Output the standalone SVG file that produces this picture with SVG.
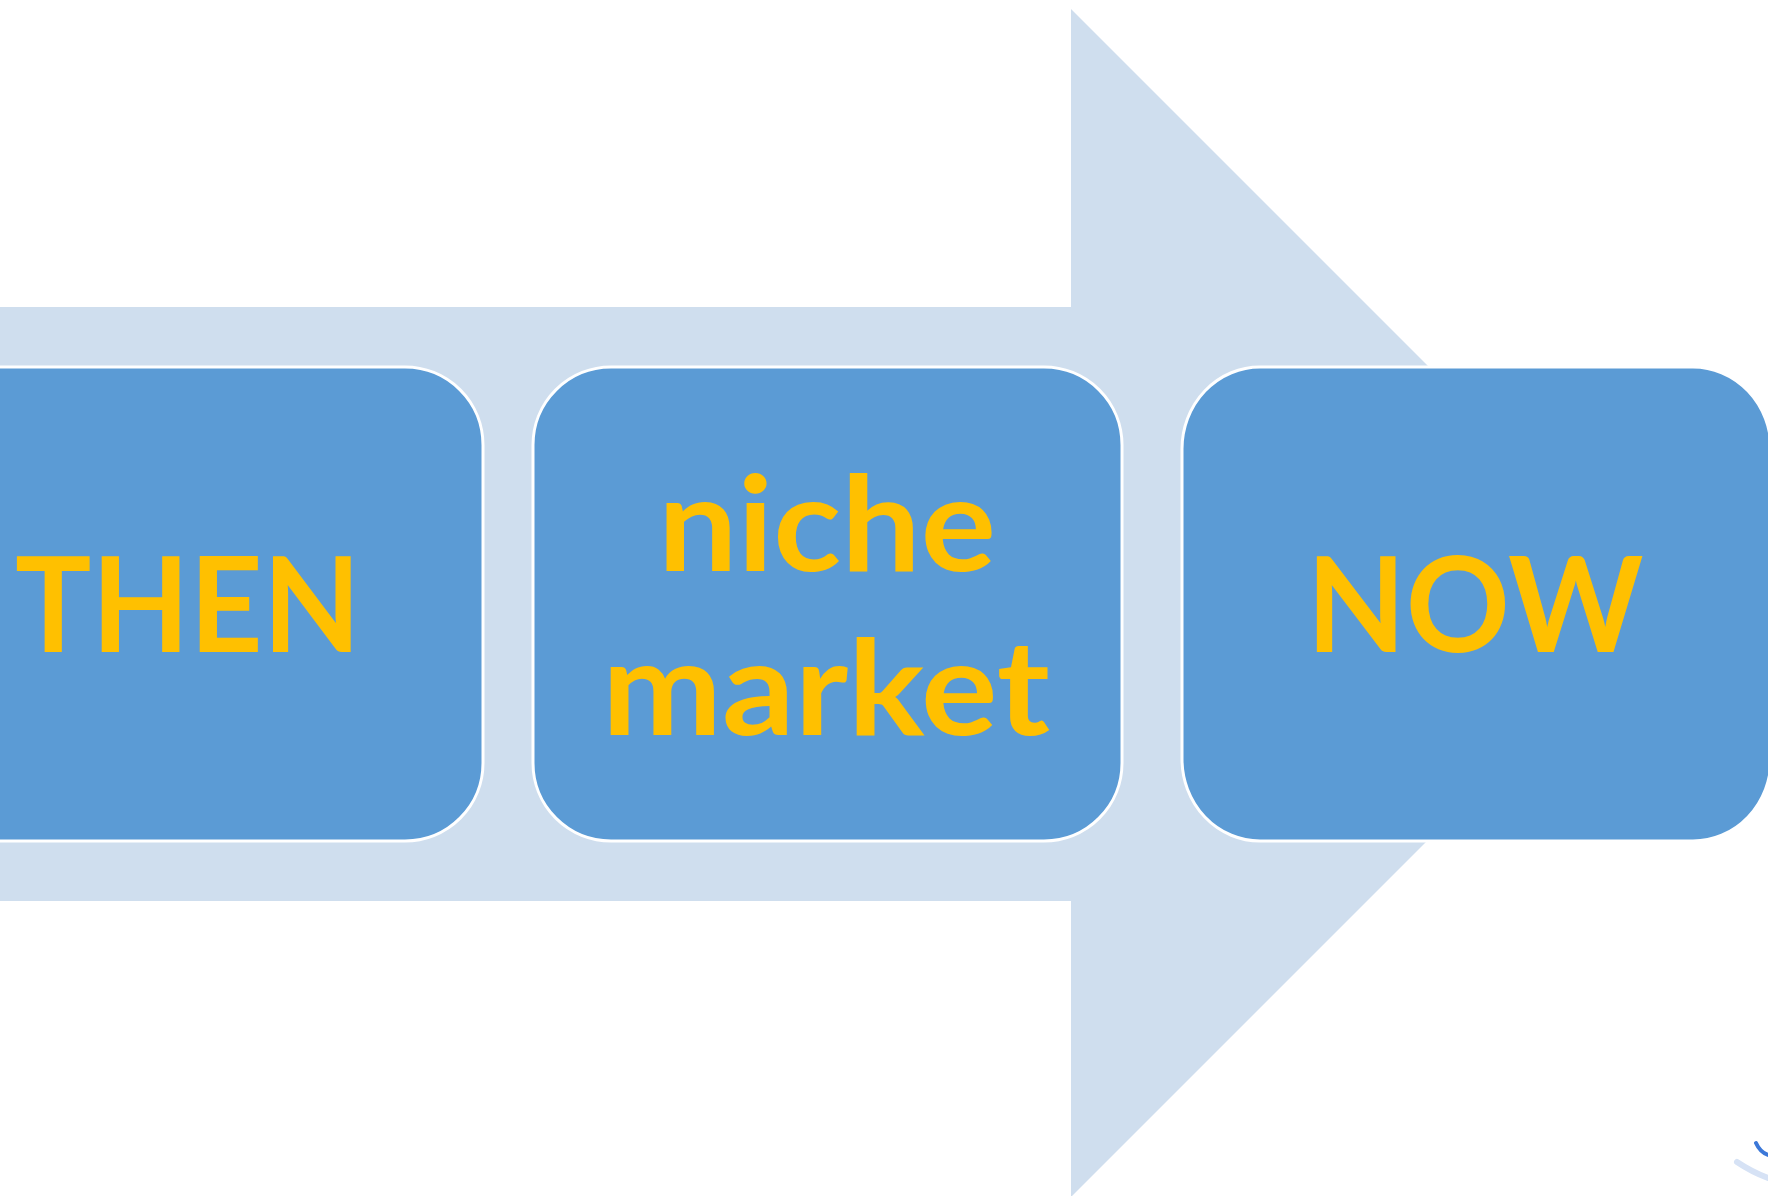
<svg xmlns="http://www.w3.org/2000/svg" width="1768" height="1196" viewBox="0 0 1768 1196">
<style>
.box{fill:#5B9BD5;stroke:#FFFFFF;stroke-width:3}
.lbl{font-family:Lato,"Open Sans","Liberation Sans",sans-serif;font-weight:bold;font-size:132px;fill:#FFC000;text-anchor:middle}
</style>
<rect width="1768" height="1196" fill="#FFFFFF"/>
<g id="arrow">
<polygon points="0,307 1071,307 1071,9 1665,603 1071,1197 1071,901 0,901" fill="#CFDEEE"/>
</g>
<g id="node-then">
<rect class="box" x="-106" y="367" width="589" height="474" rx="78" ry="78"/>
<text class="lbl" x="188" y="652" textLength="346" lengthAdjust="spacingAndGlyphs">THEN</text>
</g>
<g id="node-niche">
<rect class="box" x="533" y="367" width="589" height="474" rx="78" ry="78"/>
<text class="lbl" x="827" y="571" textLength="338" lengthAdjust="spacingAndGlyphs">niche</text>
<text class="lbl" x="826" y="735" textLength="448" lengthAdjust="spacingAndGlyphs">market</text>
</g>
<g id="node-now">
<rect class="box" x="1182" y="367" width="589" height="474" rx="78" ry="82"/>
<text class="lbl" x="1475" y="652" textLength="337" lengthAdjust="spacingAndGlyphs">NOW</text>
</g>
<g id="connectors"></g>
<g id="corner-mark">
<path d="M1737,1162 Q1752,1172 1768,1178" fill="none" stroke="#D6E2F5" stroke-width="6" stroke-linecap="round"/>
<path d="M1756,1143 Q1760,1152 1768,1155" fill="none" stroke="#3C78D8" stroke-width="4" stroke-linecap="round"/>
</g>
</svg>
